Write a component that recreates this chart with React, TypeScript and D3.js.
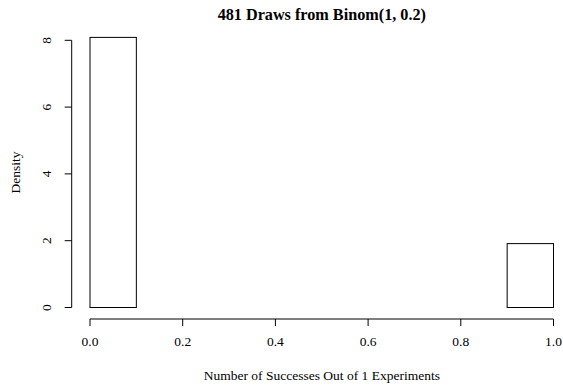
import React from "react";
import * as d3 from "d3";

const binEdges = [0, 0.1, 0.2, 0.3, 0.4, 0.5, 0.6, 0.7, 0.8, 0.9, 1.0];
const binCounts = [389, 0, 0, 0, 0, 0, 0, 0, 0, 92];
const xTicks = [0, 0.2, 0.4, 0.6, 0.8, 1.0];
const yTicks = [0, 2, 4, 6, 8];
const titleText = "481 Draws from Binom(1, 0.2)";
const xLabel = "Number of Successes Out of 1 Experiments";
const yLabel = "Density";

export default function App() {
  const W = 563, H = 385;
  const total = d3.sum(binCounts);
  const x = d3.scaleLinear().domain([0, 1]).range([90, 553.5]);
  const y = d3.scaleLinear().domain([0, 8]).range([307.5, 40.3]);
  const font = "'Liberation Serif', 'Times New Roman', serif";
  const bars = binCounts.map((c, i) => {
    const w = binEdges[i + 1] - binEdges[i];
    return { x0: binEdges[i], x1: binEdges[i + 1], d: c / (total * w) };
  });
  const axisY = 319;
  const axisX = 71.7;
  const cx = 321.8;
  const cy = 172.5;
  return (
    <svg width={W} height={H} style={{ position: "absolute", left: 0, top: 0, background: "#fff" }} fontFamily={font}>
      <rect x={0} y={0} width={W} height={H} fill="#fff" />
      <text x={cx} y={20} textAnchor="middle" fontWeight="bold" fontSize={16.2}>{titleText}</text>
      {bars.map((b, i) => (
        <rect key={i} x={x(b.x0)} y={y(b.d)} width={x(b.x1) - x(b.x0)} height={y(0) - y(b.d)}
          fill="none" stroke="#000" strokeWidth={1} />
      ))}
      <line x1={x(0)} x2={x(1)} y1={axisY} y2={axisY} stroke="#000" />
      {xTicks.map((t) => (
        <g key={t}>
          <line x1={x(t)} x2={x(t)} y1={axisY} y2={axisY + 7} stroke="#000" />
          <text x={x(t)} y={346} textAnchor="middle" fontSize={13.5}>{t.toFixed(1)}</text>
        </g>
      ))}
      <line x1={axisX} x2={axisX} y1={y(0)} y2={y(8)} stroke="#000" />
      {yTicks.map((t) => (
        <g key={t}>
          <line x1={axisX} x2={axisX - 7} y1={y(t)} y2={y(t)} stroke="#000" />
          <text transform={`translate(51,${y(t)}) rotate(-90)`} textAnchor="middle" fontSize={13.5}>{t}</text>
        </g>
      ))}
      <text x={cx} y={380} textAnchor="middle" fontSize={13.5}>{xLabel}</text>
      <text transform={`translate(19.5,${cy}) rotate(-90)`} textAnchor="middle" fontSize={13.5}>{yLabel}</text>
    </svg>
  );
}
